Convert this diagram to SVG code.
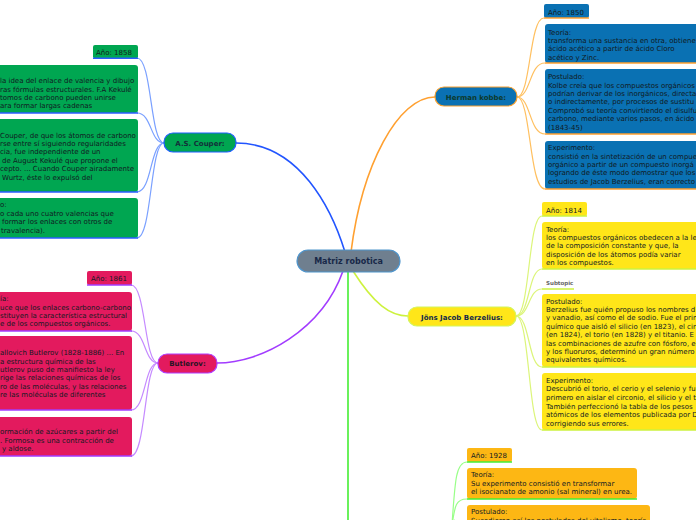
<svg xmlns="http://www.w3.org/2000/svg" width="696" height="520" viewBox="0 0 696 520">
<style>
.t{font-family:"DejaVu Sans",Verdana,sans-serif;font-size:7px;fill:#111a22}
.n{font-family:"DejaVu Sans",Verdana,sans-serif;font-size:7px;font-weight:bold;fill:#14303a;text-anchor:middle}
.c{fill:none;stroke-width:1.2}
.m{fill:none;stroke-width:1.6}
.g{fill:#00a651}
.b{fill:#0a71b3}
.y{fill:#ffe619}
.p{fill:#e31a5e}
.o{fill:#fdb714}
.ub{stroke:#2a5cff;stroke-width:1.5}
.uo{stroke:#ffa030;stroke-width:1.5}
.uy{stroke:#cdf23e;stroke-width:1.5}
.up{stroke:#a23cff;stroke-width:1.5}
.ug{stroke:#44ee33;stroke-width:1.5}
</style>
<rect width="696" height="520" fill="#ffffff"/>
<g id="connectors">
<path class="m" stroke="#2255ff" d="M236,143 C300,143 332,210 345,252"/>
<path class="m" stroke="#ffa030" d="M351,252 C362,165 398,97 435,97"/>
<path class="m" stroke="#a23cff" d="M343,271 C322,330 262,363 217,363"/>
<path class="m" stroke="#cdf23e" d="M353,271 C374,304 390,316 408,316"/>
<path class="m" stroke="#44ee33" d="M348,272 V520"/>
<g stroke="#7aa0ff">
<path class="c" d="M164,143 C150,143 152,58 137,58"/>
<path class="c" d="M164,143 C150,143 152,113 137,113"/>
<path class="c" d="M164,143 C150,143 152,192 137,192"/>
<path class="c" d="M164,143 C150,143 152,238 137,238"/>
</g>
<g stroke="#c58aff">
<path class="c" d="M158,363 C144,363 146,285 131,285"/>
<path class="c" d="M158,363 C144,363 146,331 131,331"/>
<path class="c" d="M158,363 C144,363 146,410 131,410"/>
<path class="c" d="M158,363 C144,363 146,456 131,456"/>
</g>
<g stroke="#ffc060">
<path class="c" d="M517,97 C531,97 529,18 544,18"/>
<path class="c" d="M517,97 C531,97 529,63 545,63"/>
<path class="c" d="M517,97 C531,97 529,134 545,134"/>
<path class="c" d="M517,97 C531,97 529,189 545,189"/>
</g>
<g stroke="#dcf57a">
<path class="c" d="M516,316 C530,316 528,216 542,216"/>
<path class="c" d="M516,316 C530,316 528,269 542,269"/>
<path class="c" d="M516,316 C530,316 528,289 542,289"/>
<path class="c" d="M516,316 C530,316 528,367 542,367"/>
<path class="c" d="M516,316 C530,316 528,430 542,430"/>
</g>
<g stroke="#99ff88">
<path class="c" d="M452,525 C455,480 456,462 467,462"/>
<path class="c" d="M452,525 C455,505 456,499 467,499"/>
<path class="c" d="M450,525 C452,522 453,520 455,520"/>
</g>
</g>
<g id="center">
<rect x="297" y="250" width="103" height="22" rx="11" fill="#6f7f8f" stroke="#4f95cc" stroke-width="1.2"/>
<text class="n" x="348.5" y="264" style="font-size:8px;fill:#182848">Matriz robotica</text>
</g>
<g id="couper">
<rect x="164" y="133" width="72" height="19" rx="9" fill="#00a651" stroke="#1e5eff" stroke-width="1.2"/>
<text class="n" x="200" y="145.5">A.S. Couper:</text>
</g>
<g id="couper-year">
<rect class="g" x="93" y="45" width="45" height="13.5" rx="2"/>
<line class="ub" x1="93" y1="58.2" x2="138" y2="58.2"/>
<text class="t" x="96" y="55">Año: 1858</text>
</g>
<g id="couper-1">
<rect class="g" x="-5" y="65" width="143" height="48" rx="3"/>
<line class="ub" x1="0" y1="113" x2="138" y2="113"/>
<text class="t"><tspan x="0" y="83.2">la idea del enlace de valencia y dibujo</tspan><tspan x="0" y="91.6">ras fórmulas estructurales. F.A Kekulé</tspan><tspan x="0" y="100">tomos de carbono pueden unirse</tspan><tspan x="0" y="108.4">ara formar largas cadenas</tspan></text>
</g>
<g id="couper-2">
<rect class="g" x="-5" y="119" width="143" height="73" rx="3"/>
<line class="ub" x1="0" y1="192" x2="138" y2="192"/>
<text class="t"><tspan x="0" y="137.5">Couper, de que los átomos de carbono</tspan><tspan x="0" y="145.9">rse entre sí siguiendo regularidades</tspan><tspan x="0" y="154.3">cia, fue independiente de un</tspan><tspan x="2" y="162.7">de August Kekulé que propone el</tspan><tspan x="0" y="171.1">cepto. ... Cuando Couper airadamente</tspan><tspan x="2" y="179.5">Wurtz, éste lo expulsó del</tspan></text>
</g>
<g id="couper-3">
<rect class="g" x="-5" y="198" width="143" height="40" rx="3"/>
<line class="ub" x1="0" y1="238" x2="138" y2="238"/>
<text class="t"><tspan x="0" y="207.3">o:</tspan><tspan x="0" y="215.7">o cada uno cuatro valencias que</tspan><tspan x="2" y="224.1">formar los enlaces con otros de</tspan><tspan x="1" y="232.5">travalencia).</tspan></text>
</g>
<g id="butlerov">
<rect x="158" y="354" width="59" height="19" rx="9" fill="#e31a5e" stroke="#b03cff" stroke-width="1.2"/>
<text class="n" x="187.5" y="366" style="fill:#2a1424">Butlerov:</text>
</g>
<g id="butlerov-year">
<rect class="p" x="87" y="271" width="45" height="14" rx="2"/>
<line class="up" x1="87" y1="285" x2="132" y2="285"/>
<text class="t" x="91" y="281">Año: 1861</text>
</g>
<g id="butlerov-1">
<rect class="p" x="-5" y="292" width="137" height="39" rx="3"/>
<line class="up" x1="0" y1="331" x2="132" y2="331"/>
<text class="t"><tspan x="0" y="301.2">ía:</tspan><tspan x="0" y="309.6">uce que los enlaces carbono-carbono</tspan><tspan x="0" y="318">stituyen la característica estructural</tspan><tspan x="0" y="326.4">e de los compuestos orgánicos.</tspan></text>
</g>
<g id="butlerov-2">
<rect class="p" x="-5" y="336" width="137" height="74" rx="3"/>
<line class="up" x1="0" y1="410" x2="132" y2="410"/>
<text class="t"><tspan x="0" y="355.2">allovich Butlerov (1828-1886) ... En</tspan><tspan x="0" y="363.6">a estructura química de las</tspan><tspan x="0" y="372">utlerov puso de manifiesto la ley</tspan><tspan x="0" y="380.4">rige las relaciones químicas de los</tspan><tspan x="0" y="388.8">ro de las moléculas, y las relaciones</tspan><tspan x="0" y="397.2">re las moléculas de diferentes</tspan></text>
</g>
<g id="butlerov-3">
<rect class="p" x="-5" y="417" width="137" height="39" rx="3"/>
<line class="up" x1="0" y1="456" x2="132" y2="456"/>
<text class="t"><tspan x="0" y="434.2">ormación de azúcares a partir del</tspan><tspan x="0" y="442.6">. Formosa es una contracción de</tspan><tspan x="2" y="451">y aldose.</tspan></text>
</g>
<g id="kobbe">
<rect x="435" y="87" width="82" height="19" rx="9" fill="#0a71b3" stroke="#f7a030" stroke-width="1.2"/>
<text class="n" x="476" y="99.5" style="fill:#0d3a2c">Herman kobbe:</text>
</g>
<g id="kobbe-year">
<rect class="b" x="544" y="4" width="45" height="14" rx="2"/>
<line class="uo" x1="544" y1="18" x2="589" y2="18"/>
<text class="t" x="548" y="14.5">Año: 1850</text>
</g>
<g id="kobbe-1">
<rect class="b" x="545" y="24" width="170" height="39" rx="3"/>
<line class="uo" x1="545" y1="63" x2="696" y2="63"/>
<text class="t"><tspan x="548" y="34.5">Teoría:</tspan><tspan x="548" y="43">transforma una sustancia en otra, obtiene</tspan><tspan x="548" y="51.3">ácido acético a partir de ácido Cloro</tspan><tspan x="548" y="59.7">acético y Zinc.</tspan></text>
</g>
<g id="kobbe-2">
<rect class="b" x="545" y="69" width="170" height="65" rx="3"/>
<line class="uo" x1="545" y1="134" x2="696" y2="134"/>
<text class="t"><tspan x="548" y="79.2">Postulado:</tspan><tspan x="548" y="87.6">Kolbe creía que los compuestos orgánicos</tspan><tspan x="548" y="96">podrían derivar de los inorgánicos, directa</tspan><tspan x="548" y="104.4">o indirectamente, por procesos de sustitu</tspan><tspan x="548" y="112.8">Comprobó su teoría convirtiendo el disulfu</tspan><tspan x="548" y="121.2">carbono, mediante varios pasos, en ácido</tspan><tspan x="548" y="129.6">(1843-45)</tspan></text>
</g>
<g id="kobbe-3">
<rect class="b" x="545" y="141" width="170" height="48" rx="3"/>
<line class="uo" x1="545" y1="189" x2="696" y2="189"/>
<text class="t"><tspan x="548" y="150.2">Experimento:</tspan><tspan x="548" y="158.6">consistió en la sintetización de un compue</tspan><tspan x="548" y="167">orgánico a partir de un compuesto inorgá</tspan><tspan x="548" y="175.4">logrando de éste modo demostrar que los</tspan><tspan x="548" y="183.8">estudios de Jacob Berzelius, eran correcto</tspan></text>
</g>
<g id="berzelius">
<rect x="408" y="307" width="108" height="19" rx="9" fill="#ffe619" stroke="#d4f55a" stroke-width="1.2"/>
<text class="n" x="462" y="319.5" style="fill:#13294a">Jöns Jacob Berzelius:</text>
</g>
<g id="berzelius-year">
<rect class="y" x="542" y="202" width="45" height="14" rx="2"/>
<line class="uy" x1="542" y1="216" x2="587" y2="216"/>
<text class="t" x="546" y="212.5">Año: 1814</text>
</g>
<g id="berzelius-1">
<rect class="y" x="542" y="222" width="170" height="47" rx="3"/>
<line class="uy" x1="542" y1="269" x2="696" y2="269"/>
<text class="t"><tspan x="546" y="231.5">Teoría:</tspan><tspan x="546" y="239.9">los compuestos orgánicos obedecen a la le</tspan><tspan x="546" y="248.3">de la composición constante y que, la</tspan><tspan x="546" y="256.7">disposición de los átomos podía variar</tspan><tspan x="546" y="265.1">en los compuestos.</tspan></text>
</g>
<g id="berzelius-sub">
<line class="uy" x1="542" y1="289" x2="574" y2="289"/>
<text x="546" y="284.5" style="font-family:'DejaVu Sans',Verdana,sans-serif;font-size:5.5px;font-weight:bold;fill:#666">Subtopic</text>
</g>
<g id="berzelius-2">
<rect class="y" x="542" y="294" width="170" height="73" rx="3"/>
<line class="uy" x1="542" y1="367" x2="696" y2="367"/>
<text class="t"><tspan x="546" y="303.5">Postulado:</tspan><tspan x="546" y="311.9">Berzelius fue quién propuso los nombres d</tspan><tspan x="546" y="320.3">y vanadio, así como el de sodio. Fue el prim</tspan><tspan x="546" y="328.7">químico que aisló el silicio (en 1823), el cir</tspan><tspan x="546" y="337.1">(en 1824), el torio (en 1828) y el titanio. E</tspan><tspan x="546" y="345.5">las combinaciones de azufre con fósforo, e</tspan><tspan x="546" y="353.9">y los fluoruros, determinó un gran número</tspan><tspan x="546" y="362.3">equivalentes químicos.</tspan></text>
</g>
<g id="berzelius-3">
<rect class="y" x="542" y="373" width="170" height="57" rx="3"/>
<line class="uy" x1="542" y1="430" x2="696" y2="430"/>
<text class="t"><tspan x="546" y="382.7">Experimento:</tspan><tspan x="546" y="391.3">Descubrió el torio, el cerio y el selenio y fu</tspan><tspan x="546" y="399.9">primero en aislar el circonio, el silicio y el t</tspan><tspan x="546" y="408.5">También perfeccionó la tabla de los pesos</tspan><tspan x="546" y="417.1">atómicos de los elementos publicada por D</tspan><tspan x="546" y="425.7">corrigiendo sus errores.</tspan></text>
</g>
<g id="wohler-year">
<rect class="o" x="467" y="448" width="45" height="14" rx="2"/>
<line class="ug" x1="467" y1="462" x2="512" y2="462"/>
<text class="t" x="471" y="457.8">Año: 1928</text>
</g>
<g id="wohler-1">
<rect class="o" x="467" y="468" width="170" height="31" rx="3"/>
<line class="ug" x1="467" y1="499" x2="637" y2="499"/>
<text class="t"><tspan x="471" y="477.4">Teoría:</tspan><tspan x="471" y="485.8">Su experimento consistió en transformar</tspan><tspan x="471" y="494.2">el isocianato de amonio (sal mineral) en urea.</tspan></text>
</g>
<g id="wohler-2">
<rect class="o" x="467" y="505" width="183" height="30" rx="3"/>
<text class="t"><tspan x="471" y="514.2">Postulado:</tspan><tspan x="471" y="522.6">Sucedieron así los postulados del vitalismo, teoría</tspan></text>
</g>
</svg>
